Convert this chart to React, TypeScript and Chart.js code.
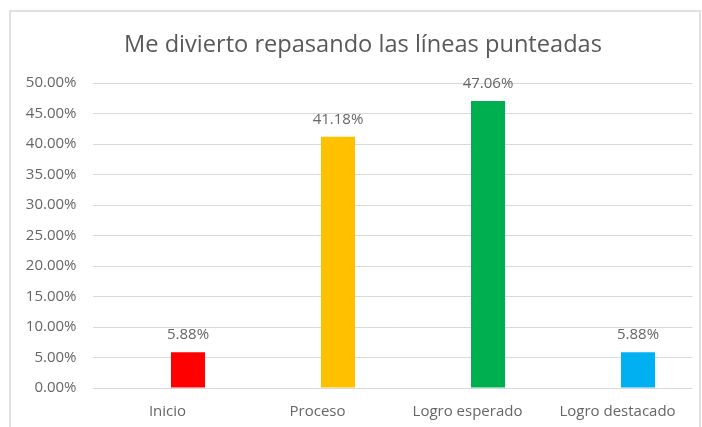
import React, { useEffect, useRef } from "react";
import { Chart, registerables } from "chart.js";

Chart.register(...registerables);

const TITLE = "Me divierto repasando las líneas punteadas";
const categories = ["Inicio", "Proceso", "Logro esperado", "Logro destacado"];
const values = [5.88, 41.18, 47.06, 5.88];
const barColors = ["#FF0000", "#FFC000", "#00B050", "#00B0F0"];
const spacerValues = [null, null, null, null];
const yMin = 0;
const yMax = 50;
const yStep = 5;

const FONT = "'Open Sans', sans-serif";
const TEXT = "#595959";
const TICK_TEXT = "#666666";

const overlayPlugin = {
  id: "overlay",
  afterDatasetsDraw(chart: any) {
    const ctx = chart.ctx;
    ctx.save();
    const meta = chart.getDatasetMeta(1);
    ctx.font = `15px ${FONT}`;
    ctx.fillStyle = TICK_TEXT;
    ctx.textAlign = "center";
    ctx.textBaseline = "middle";
    meta.data.forEach((el: any, i: number) => {
      const v = values[i];
      ctx.fillText(v.toFixed(2) + "%", el.x, el.y - 17);
    });
    ctx.font = `23.6px ${FONT}`;
    ctx.fillStyle = TEXT;
    ctx.textBaseline = "alphabetic";
    ctx.fillText(TITLE, 363, 52);
    ctx.restore();
  },
};

export default function App() {
  const ref = useRef<HTMLCanvasElement | null>(null);
  useEffect(() => {
    if (!ref.current) return;
    const chart = new Chart(ref.current, {
      type: "bar",
      data: {
        labels: categories,
        datasets: [
          { data: spacerValues as any, backgroundColor: "transparent" },
          { data: values, backgroundColor: barColors },
        ],
      },
      options: {
        responsive: false,
        animation: false,
        devicePixelRatio: 1,
        layout: { padding: { left: 0, right: 9.5, top: 83, bottom: 0 } },
        plugins: {
          legend: { display: false },
          tooltip: { enabled: false },
          title: { display: false },
        },
        datasets: {
          bar: { categoryPercentage: 0.547, barPercentage: 0.83 },
        },
        scales: {
          x: {
            grid: { display: false, drawTicks: false },
            border: { display: false },
            ticks: {
              color: TICK_TEXT,
              font: { family: FONT, size: 15 },
              padding: 15,
              maxRotation: 0,
              autoSkip: false,
            },
            afterFit: (s: any) => {
              s.height = 39;
            },
          },
          y: {
            min: yMin,
            max: yMax,
            grid: { color: "#D9D9D9", lineWidth: 1, drawTicks: false },
            border: { display: false },
            ticks: {
              stepSize: yStep,
              color: TICK_TEXT,
              font: { family: FONT, size: 15 },
              padding: 16,
              callback: (v: any) => Number(v).toFixed(2) + "%",
            },
            afterFit: (s: any) => {
              s.width = 92.5;
            },
          },
        },
      },
      plugins: [overlayPlugin],
    });
    return () => chart.destroy();
  }, []);

  return (
    <div
      style={{
        position: "fixed",
        left: 0,
        top: 0,
        width: 702,
        height: 427,
        overflow: "hidden",
        background: "#fff",
      }}
    >
      <div
        style={{
          position: "absolute",
          left: 9,
          top: 10,
          width: 692,
          height: 440,
          border: "2px solid #E0E0E0",
          boxSizing: "border-box",
        }}
      />
      <canvas
        ref={ref}
        width={702}
        height={427}
        style={{ position: "absolute", left: 0, top: 0, width: 702, height: 427 }}
      />
    </div>
  );
}
